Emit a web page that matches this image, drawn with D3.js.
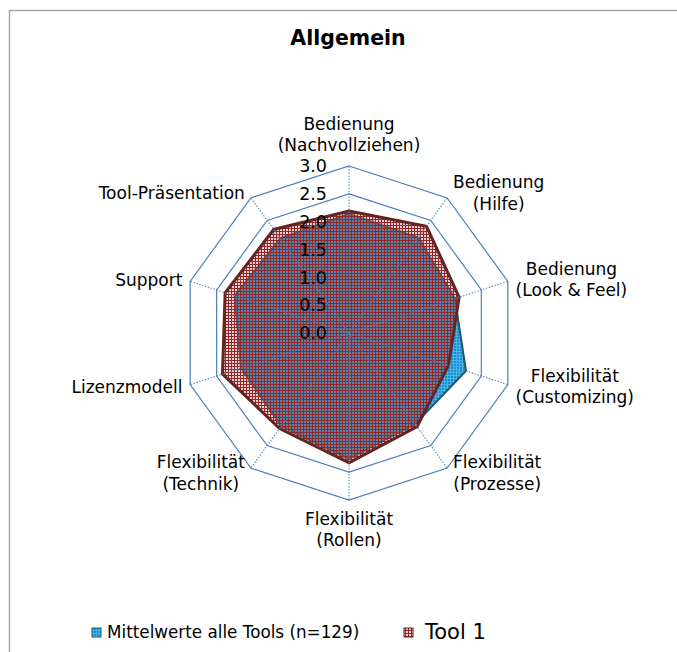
<!DOCTYPE html>
<html>
<head>
<meta charset="utf-8">
<script src="https://cdn.jsdelivr.net/npm/d3@7"></script>
<style>
  body { margin: 0; background: #fff; }
  svg { display: block; font-family: "DejaVu Sans", Verdana, sans-serif; }
</style>
</head>
<body>
<svg id="chart"></svg>
<script>
const width = 677;
const height = 652;

// data
const categories = ["Bedienung\n(Nachvollziehen)", "Bedienung\n(Hilfe)", "Bedienung\n(Look & Feel)",
  "Flexibilität\n(Customizing)", "Flexibilität\n(Prozesse)", "Flexibilität\n(Rollen)",
  "Flexibilität\n(Technik)", "Lizenzmodell", "Support", "Tool-Präsentation"];
const meanValues = [2.14, 2.12, 2.0, 2.21, 2.02, 2.26, 2.07, 2.04, 2.16, 2.1];
const tool1Values = [2.19, 2.37, 2.08, 1.88, 2.08, 2.33, 2.12, 2.39, 2.34, 2.3];
const tickValues = [0, 0.5, 1.0, 1.5, 2.0, 2.5, 3.0];
const seriesNames = ["Mittelwerte alle Tools (n=129)", "Tool 1"];

const cx = 349, cy = 333, radius = 167;
const gridColor = "#4a7ebb";

var svg = d3.select("#chart").attr("width", width).attr("height", height);

var r = d3.scaleLinear().domain([0, 3]).range([0, radius]);
var angle = d3.scaleLinear().domain([0, categories.length]).range([0, 2 * Math.PI]);

function pt(i, v) {
  var a = angle(i);
  return [cx + Math.sin(a) * r(v), cy - Math.cos(a) * r(v)];
}

// patterns for the two fills
var defs = svg.append("defs");
var pb = defs.append("pattern").attr("id", "patBlue")
  .attr("width", 3).attr("height", 3).attr("patternUnits", "userSpaceOnUse");
pb.append("rect").attr("width", 3).attr("height", 3).attr("fill", "#1b8fd0");
pb.append("rect").attr("width", 3).attr("height", 1).attr("fill", "#45b4ea");
pb.append("rect").attr("width", 1).attr("height", 3).attr("fill", "#45b4ea");

var pr = defs.append("pattern").attr("id", "patRed")
  .attr("width", 3).attr("height", 3).attr("patternUnits", "userSpaceOnUse");
pr.append("rect").attr("width", 3).attr("height", 3).attr("fill", "rgba(200,110,110,0.35)");
pr.append("rect").attr("width", 3).attr("height", 1).attr("fill", "#8e2a2a");
pr.append("rect").attr("width", 1).attr("height", 3).attr("fill", "#8e2a2a");

// chart area border
svg.append("rect")
  .attr("x", 9.5).attr("y", 10.5)
  .attr("width", 720).attr("height", 720)
  .attr("fill", "none")
  .attr("stroke", "#a6a6a6")
  .attr("stroke-width", 1.5);

// title
svg.append("text")
  .attr("x", 348).attr("y", 45)
  .attr("text-anchor", "middle")
  .attr("font-weight", "bold")
  .attr("font-size", 20.5)
  .text("Allgemein");

// rings
var line = d3.line();
svg.append("g")
  .selectAll("path")
  .data(tickValues.filter(d => d > 0))
  .enter().append("path")
  .attr("d", v => line(categories.map((c, i) => pt(i, v))) + "Z")
  .attr("fill", "none")
  .attr("stroke", gridColor)
  .attr("stroke-width", 1.2);

// series
var series = [
  { values: meanValues, fill: "url(#patBlue)", stroke: "#205868", sw: 2 },
  { values: tool1Values, fill: "url(#patRed)", stroke: "#632523", sw: 3 }
];
svg.append("g")
  .selectAll("path")
  .data(series)
  .enter().append("path")
  .attr("d", s => line(s.values.map((v, i) => pt(i, v))) + "Z")
  .attr("fill", s => s.fill)
  .attr("stroke", s => s.stroke)
  .attr("stroke-width", s => s.sw)
  .attr("stroke-linejoin", "miter");

// spokes (dotted)
svg.append("g")
  .selectAll("line")
  .data(categories)
  .enter().append("line")
  .attr("x1", cx).attr("y1", cy)
  .attr("x2", (d, i) => pt(i, 3)[0])
  .attr("y2", (d, i) => pt(i, 3)[1])
  .attr("stroke", gridColor)
  .attr("stroke-width", 1.2)
  .attr("stroke-dasharray", "1.5,1.5")
  .attr("opacity", 0.85);

// radial tick labels
svg.append("g")
  .selectAll("text")
  .data(tickValues)
  .enter().append("text")
  .attr("x", cx - 22)
  .attr("y", d => cy - r(d))
  .attr("dy", "0.36em")
  .attr("text-anchor", "end")
  .attr("font-size", 17.5)
  .text(d => d.toFixed(1));

// category labels: lines centred within their block
var lineH = 21.5;
var labels = svg.append("g").attr("font-size", 17);
categories.forEach(function(c, i) {
  var a = angle(i);
  var s = Math.sin(a), co = Math.cos(a);
  var v = pt(i, 3);
  var parts = c.split("\n");
  var t = labels.append("text").attr("text-anchor", "middle");
  var spans = parts.map(function(p) { return t.append("tspan").text(p); });
  var w = d3.max(spans, sp => sp.node().getComputedTextLength());
  var gap = 3 + 5 * Math.abs(s);
  var xc;
  if (Math.abs(s) < 0.01) xc = v[0];
  else xc = v[0] + Math.sign(s) * (gap + w / 2);
  var yCenter;
  if (Math.abs(s) < 0.01 && co > 0) yCenter = v[1] - 10 - (parts.length * lineH) / 2;
  else if (Math.abs(s) < 0.01) yCenter = v[1] + 8 + (parts.length * lineH) / 2;
  else yCenter = v[1] - co * 6;
  spans.forEach(function(sp, k) {
    sp.attr("x", xc)
      .attr("y", yCenter + (k - (parts.length - 1) / 2) * lineH)
      .attr("dy", "0.36em");
  });
});

// legend
var legend = svg.append("g");
legend.append("rect").attr("x", 92).attr("y", 628).attr("width", 9).attr("height", 9)
  .attr("fill", "url(#patBlue)").attr("stroke", "#205868").attr("stroke-width", 1);
legend.append("text").attr("x", 107).attr("y", 638).attr("font-size", 16.8)
  .text(seriesNames[0]);
legend.append("rect").attr("x", 404).attr("y", 628).attr("width", 9).attr("height", 9)
  .attr("fill", "url(#patRed)").attr("stroke", "#632523").attr("stroke-width", 1);
legend.append("text").attr("x", 425).attr("y", 639).attr("font-size", 21)
  .text(seriesNames[1]);
</script>
</body>
</html>
